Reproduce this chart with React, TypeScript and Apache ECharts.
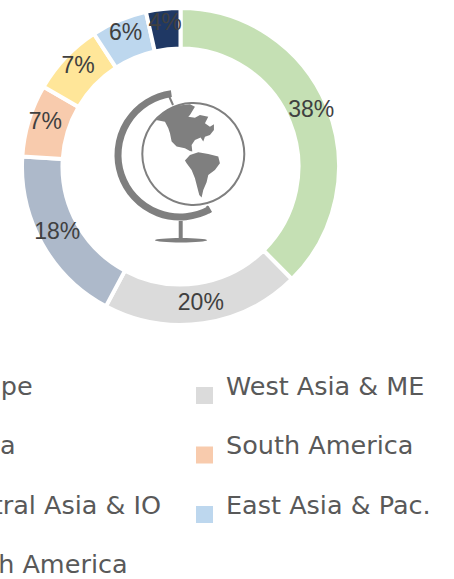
import React, { useEffect, useRef } from "react";
import * as echarts from "echarts";

const categories = ["Europe", "West Asia & ME", "Africa", "South America", "Central Asia & IO", "East Asia & Pac.", "North America"];
const values = [37.6, 20.2, 18.2, 7.4, 7.4, 5.7, 3.5];
const colors = ["#C5E0B4", "#DBDBDB", "#ADB9CA", "#F8CBAD", "#FFE699", "#BDD7EE", "#1F3864"];
const leftLegend = ["Europe", "Africa", "Central Asia & IO", "North America"];
const rightLegend = ["West Asia & ME", "South America", "East Asia & Pac."];

const NA = "M48 75L75 50L110 32L150 28L165 35L150 60L145 65L165 68L180 60L205 65L195 85L210 95L222 88L222 105L210 120L195 125L190 140L182 128L165 135L155 150L157 170L150 168L135 160L110 155L95 140L90 115L85 100L75 80Z";
const SA = "M135 197L150 180L175 172L205 177L235 185L240 205L225 225L205 240L200 262L190 285L185 308L178 300L165 250L155 225L140 205Z";
echarts.graphic.registerShape("globeLand", echarts.graphic.extendPath(NA + SA, {}) as any);

const grey = "#7F7F7F";
const legendIcon = "path://M0 0L0 0ZM0 20H17V37H0ZM25 0L25 0Z";
const legendBase = {
  orient: "vertical" as const,
  itemWidth: 25,
  itemHeight: 37,
  icon: legendIcon,
  itemGap: 22.5,
  padding: 0,
  height: 300,
  itemStyle: { borderWidth: 0 },
  textStyle: { fontFamily: "DejaVu Sans", fontSize: 25.5, color: "#595959" },
};

export default function App() {
  const ref = useRef<HTMLDivElement>(null);
  useEffect(() => {
    const chart = echarts.init(ref.current!, undefined, { renderer: "svg" });
    chart.setOption({
      animation: false,
      color: colors,
      legend: [
        { ...legendBase, left: -87, top: 367, data: leftLegend },
        { ...legendBase, left: 196, top: 367, data: rightLegend },
      ],
      series: [
        {
          type: "pie",
          center: [180.5, 166.5],
          radius: [118, 158.5],
          startAngle: 90,
          clockwise: true,
          itemStyle: { borderColor: "#fff", borderWidth: 4 },
          label: {
            show: true,
            position: "inside",
            formatter: (p: any) => Math.round(p.value) + "%",
            fontFamily: "Liberation Sans",
            fontSize: 23,
            color: "#404040",
            offset: [0, -4],
          },
          labelLine: { show: false },
          data: categories.map((name, i) => ({ name, value: values[i] })),
        },
      ],
      graphic: [
        { type: "arc", shape: { cx: 180, cy: 155, r: 62, startAngle: (60.7 * Math.PI) / 180, endAngle: (262 * Math.PI) / 180, clockwise: true }, style: { stroke: grey, lineWidth: 7, fill: "none" } },
        { type: "circle", shape: { cx: 193.3, cy: 154, r: 51 }, style: { stroke: grey, lineWidth: 2, fill: "#fff" } },
        { type: "line", shape: { x1: 169, y1: 96, x2: 173, y2: 105 }, style: { stroke: grey, lineWidth: 2 } },
        { type: "line", shape: { x1: 207, y1: 206, x2: 210, y2: 213 }, style: { stroke: grey, lineWidth: 2 } },
        { type: "rect", shape: { x: 178.7, y: 221, width: 4, height: 19 }, style: { fill: grey } },
        { type: "ellipse", shape: { cx: 181, cy: 240.3, rx: 26, ry: 2.2 }, style: { fill: grey } },
        { type: "globeLand", x: 140, y: 95, scaleX: 1 / 3, scaleY: 1 / 3, style: { fill: grey } },
      ],
    });
    return () => chart.dispose();
  }, []);
  return <div ref={ref} style={{ position: "absolute", left: 0, top: 0, width: 454, height: 579, background: "#fff" }} />;
}
